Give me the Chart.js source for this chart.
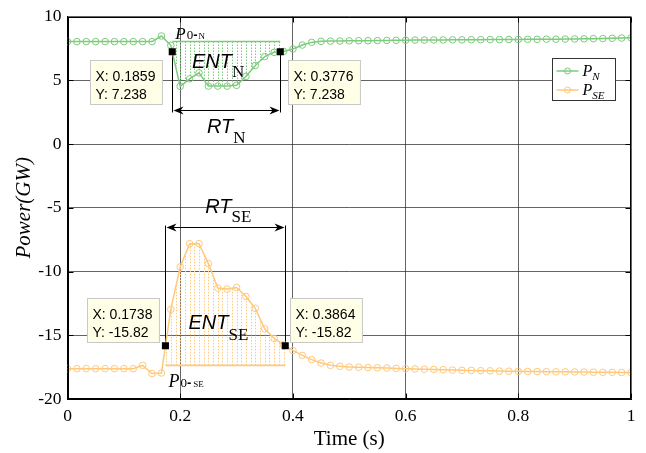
<!DOCTYPE html>
<html>
<head>
<meta charset="utf-8">
<script src="https://cdn.jsdelivr.net/npm/chart.js@4.4.1/dist/chart.umd.min.js"></script>
<style>
  html, body { margin: 0; padding: 0; background: #fff; }
  canvas { display: block; }
</style>
</head>
<body>
<canvas id="power-chart" width="646" height="453"></canvas>
<script>
// sample times (s)
const time = [
  0, 0.0167, 0.0333, 0.05, 0.0667, 0.0833, 0.1, 0.1167, 0.1333, 0.15,
  0.1667, 0.1833, 0.2, 0.2167, 0.2333, 0.25, 0.2667, 0.2833, 0.3, 0.3167,
  0.3333, 0.35, 0.3667, 0.3833, 0.4, 0.4167, 0.4333, 0.45, 0.4667, 0.4833,
  0.5, 0.5167, 0.5333, 0.55, 0.5667, 0.5833, 0.6, 0.6167, 0.6333, 0.65,
  0.6667, 0.6833, 0.7, 0.7167, 0.7333, 0.75, 0.7667, 0.7833, 0.8, 0.8167,
  0.8333, 0.85, 0.8667, 0.8833, 0.9, 0.9167, 0.9333, 0.95, 0.9667, 0.9833, 1
];
// north tie-line power (GW)
const powerN = [
  8.03, 8.03, 8.03, 8.03, 8.03, 8.03, 8.03, 8.03, 8.03, 8.03,
  8.47, 7.74, 4.52, 5.11, 5.58, 4.54, 4.54, 4.54, 4.60, 5.30,
  6.16, 6.86, 7.19, 7.26, 7.45, 7.76, 7.97, 8.05, 8.07, 8.08,
  8.09, 8.10, 8.10, 8.11, 8.12, 8.13, 8.14, 8.15, 8.15, 8.16,
  8.16, 8.17, 8.17, 8.18, 8.18, 8.19, 8.19, 8.20, 8.20, 8.21,
  8.21, 8.22, 8.22, 8.23, 8.24, 8.25, 8.26, 8.27, 8.29, 8.31, 8.33
];
// south-east tie-line power (GW)
const powerSE = [
  -17.62, -17.62, -17.62, -17.62, -17.62, -17.62, -17.62, -17.62, -17.36, -18.00,
  -17.96, -12.97, -9.64, -7.82, -7.82, -9.38, -11.30, -11.38, -11.25, -11.96,
  -12.89, -14.50, -15.25, -15.74, -16.19, -16.58, -16.91, -17.18, -17.36, -17.44,
  -17.49, -17.51, -17.53, -17.55, -17.57, -17.60, -17.62, -17.64, -17.66, -17.68,
  -17.70, -17.73, -17.75, -17.76, -17.78, -17.79, -17.81, -17.82, -17.83, -17.84,
  -17.85, -17.86, -17.87, -17.87, -17.88, -17.89, -17.90, -17.91, -17.91, -17.92, -17.93
];
// data tips: N start, N end, SE start, SE end
const tipX = [0.1859, 0.3776, 0.1738, 0.3864];
const tipY = [7.238, 7.238, -15.82, -15.82];
// pre-fault levels P0 for N and SE
const baseLevel = [8.04, -17.36];
// heights of the RT arrows
const rtLevel = [2.65, -6.5];

const xTicks = [0, 0.2, 0.4, 0.6, 0.8, 1];
const yTicks = [-20, -15, -10, -5, 0, 5, 10];

const GREEN = 'rgb(124,202,124)';
const ORANGE = 'rgb(255,200,122)';
const SERIF = "'Liberation Serif', 'Times New Roman', serif";
const SANS = "'Liberation Sans', Arial, sans-serif";
const GRID = 'rgba(40,40,40,0.72)';

function interp(xs, ys, x) {
  for (let i = 1; i < xs.length; i++) {
    if (x <= xs[i]) {
      const t = (x - xs[i - 1]) / (xs[i] - xs[i - 1]);
      return ys[i - 1] + t * (ys[i] - ys[i - 1]);
    }
  }
  return ys[ys.length - 1];
}

// draws a run of text pieces, each with its own font and baseline shift
function drawPieces(ctx, x, y, pieces) {
  ctx.textAlign = 'left';
  ctx.textBaseline = 'alphabetic';
  for (const p of pieces) {
    ctx.font = p.font;
    ctx.fillText(p.t, x, y + (p.dy || 0));
    x += ctx.measureText(p.t).width + (p.gap || 0);
  }
}

function arrowHead(ctx, x, y, dir) {
  ctx.beginPath();
  ctx.moveTo(x, y);
  ctx.lineTo(x - dir * 10, y - 4);
  ctx.lineTo(x - dir * 7, y);
  ctx.lineTo(x - dir * 10, y + 4);
  ctx.closePath();
  ctx.fill();
}

// ENT hatching, reference lines, RT markers
const regionPlugin = {
  id: 'regions',
  beforeDatasetsDraw(chart) {
    const { ctx, chartArea, scales: { x: xs, y: ys } } = chart;
    ctx.save();
    ctx.beginPath();
    ctx.rect(chartArea.left, chartArea.top, chartArea.width, chartArea.height);
    ctx.clip();

    const regions = [
      { vals: powerN, color: GREEN, x0: tipX[0], x1: tipX[1], level: baseLevel[0] },
      { vals: powerSE, color: ORANGE, x0: tipX[2], x1: tipX[3], level: baseLevel[1] }
    ];
    for (const r of regions) {
      ctx.strokeStyle = r.color;
      ctx.lineWidth = 1;
      ctx.setLineDash([1.5, 1.5]);
      const step = 1 / 120;
      for (let k = Math.ceil(r.x0 / step); k * step < r.x1; k++) {
        const xv = k * step;
        if (xv <= r.x0) continue;
        const px = Math.round(xs.getPixelForValue(xv)) + 0.5;
        ctx.beginPath();
        ctx.moveTo(px, ys.getPixelForValue(r.level));
        ctx.lineTo(px, ys.getPixelForValue(interp(time, r.vals, xv)));
        ctx.stroke();
      }
      ctx.setLineDash([]);
      ctx.lineWidth = 1.6;
      ctx.beginPath();
      ctx.moveTo(xs.getPixelForValue(r.x0), ys.getPixelForValue(r.level));
      ctx.lineTo(xs.getPixelForValue(r.x1), ys.getPixelForValue(r.level));
      ctx.stroke();
    }

    // RT brackets
    ctx.strokeStyle = '#000';
    ctx.fillStyle = '#000';
    ctx.lineWidth = 1;
    for (let j = 0; j < 2; j++) {
      const a = tipX[j * 2], b = tipX[j * 2 + 1];
      const pa = Math.round(xs.getPixelForValue(a)) + 0.5;
      const pb = Math.round(xs.getPixelForValue(b)) + 0.5;
      const py = Math.round(ys.getPixelForValue(rtLevel[j])) + 0.5;
      const extra = j === 0 ? 2 : -2;
      ctx.beginPath();
      ctx.moveTo(pa, ys.getPixelForValue(tipY[j * 2]));
      ctx.lineTo(pa, py + extra);
      ctx.moveTo(pb, ys.getPixelForValue(tipY[j * 2 + 1]));
      ctx.lineTo(pb, py + extra);
      ctx.moveTo(pa + 4, py);
      ctx.lineTo(pb - 4, py);
      ctx.stroke();
      arrowHead(ctx, pa + 1, py, -1);
      arrowHead(ctx, pb - 1, py, 1);
    }
    ctx.restore();
  },

  afterDatasetsDraw(chart) {
    const { ctx, chartArea, scales: { x: xs, y: ys } } = chart;
    ctx.save();

    // text labels
    ctx.fillStyle = '#000';
    const sub = '17px ' + SERIF;
    const big = 'italic 20px ' + SANS;
    const labels = [
      { x: 0.1912, y: 8.23, parts: [
        { t: 'P', font: 'italic 17px ' + SERIF, gap: 1 },
        { t: '0', font: '13px ' + SERIF },
        { t: '-', font: 'bold 13px ' + SANS, gap: 1 },
        { t: 'N', font: '9px ' + SERIF }] },
      { x: 0.1792, y: -19.07, parts: [
        { t: 'P', font: 'italic 18px ' + SERIF, gap: 1 },
        { t: '0', font: '13px ' + SERIF },
        { t: '-', font: 'bold 13px ' + SANS, gap: 2 },
        { t: 'SE', font: '9px ' + SERIF }] },
      { x: 0.2208, y: 5.94, parts: [{ t: 'ENT', font: big }, { t: 'N', font: sub, dy: 9 }] },
      { x: 0.2147, y: -14.5, parts: [{ t: 'ENT', font: big }, { t: 'SE', font: sub, dy: 11 }] },
      { x: 0.2474, y: 0.9, parts: [{ t: 'RT', font: big }, { t: 'N', font: sub, dy: 10 }] },
      { x: 0.2444, y: -5.41, parts: [{ t: 'RT', font: big }, { t: 'SE', font: sub, dy: 9 }] }
    ];
    for (const l of labels) {
      drawPieces(ctx, xs.getPixelForValue(l.x), ys.getPixelForValue(l.y), l.parts);
    }

    // data tip boxes
    const place = [
      { ax: 'right', ay: 'top', dx: -10, dy: 8 },
      { ax: 'left', ay: 'top', dx: 8, dy: 8 },
      { ax: 'right', ay: 'bottom', dx: -6, dy: -4 },
      { ax: 'left', ay: 'bottom', dx: 5, dy: -4 }
    ];
    ctx.font = '14px ' + SANS;
    for (let i = 0; i < tipX.length; i++) {
      const l1 = 'X: ' + tipX[i], l2 = 'Y: ' + tipY[i];
      const w = Math.max(ctx.measureText(l1).width, ctx.measureText(l2).width) + 12;
      const h = 44;
      const px = xs.getPixelForValue(tipX[i]), py = ys.getPixelForValue(tipY[i]);
      const p = place[i];
      let bx = p.ax === 'right' ? px + p.dx - w : px + p.dx;
      let by = p.ay === 'top' ? py + p.dy : py + p.dy - h;
      bx = Math.round(bx) + 0.5; by = Math.round(by) + 0.5;
      ctx.fillStyle = 'rgb(255,255,232)';
      ctx.fillRect(bx, by, w, h);
      ctx.strokeStyle = 'rgb(200,200,200)';
      ctx.lineWidth = 1;
      ctx.strokeRect(bx, by, w, h);
      ctx.fillStyle = '#000';
      ctx.textAlign = 'left';
      ctx.textBaseline = 'alphabetic';
      ctx.fillText(l1, bx + 5, by + 20);
      ctx.fillText(l2, bx + 5, by + 38);
    }

    // legend
    const lx = Math.round(chartArea.right - 79) + 0.5, ly = Math.round(chartArea.top + 41) + 0.5;
    ctx.fillStyle = '#fff';
    ctx.fillRect(lx, ly, 63, 42);
    ctx.strokeStyle = '#333';
    ctx.strokeRect(lx, ly, 63, 42);
    const entries = [
      { color: GREEN, sub: 'N', y: ly + 12.5 },
      { color: ORANGE, sub: 'SE', y: ly + 31.5 }
    ];
    for (const e of entries) {
      ctx.strokeStyle = e.color;
      ctx.lineWidth = 1.5;
      ctx.beginPath();
      ctx.moveTo(lx + 4, e.y);
      ctx.lineTo(lx + 26, e.y);
      ctx.stroke();
      ctx.lineWidth = 1;
      ctx.beginPath();
      ctx.arc(lx + 15, e.y, 3, 0, Math.PI * 2);
      ctx.stroke();
      ctx.fillStyle = '#000';
      drawPieces(ctx, lx + 30, e.y + 5, [
        { t: 'P', font: 'italic 16px ' + SERIF },
        { t: e.sub, font: 'italic 11px ' + SERIF, dy: 4 }
      ]);
    }

    // axes box and inward ticks
    ctx.strokeStyle = '#000';
    ctx.lineWidth = 1;
    const L = Math.round(chartArea.left) + 0.5, R = Math.round(chartArea.right) - 0.5;
    const T = Math.round(chartArea.top) + 0.5, B = Math.round(chartArea.bottom) - 0.5;
    ctx.strokeRect(L, T, R - L, B - T);
    ctx.beginPath();
    for (const v of xTicks) {
      const px = Math.round(xs.getPixelForValue(v)) + 0.5;
      ctx.moveTo(px, B); ctx.lineTo(px, B - 5);
      ctx.moveTo(px, T); ctx.lineTo(px, T + 5);
    }
    for (const v of yTicks) {
      const py = Math.round(ys.getPixelForValue(v)) + 0.5;
      ctx.moveTo(L, py); ctx.lineTo(L + 5, py);
      ctx.moveTo(R, py); ctx.lineTo(R - 5, py);
    }
    ctx.stroke();

    // axis titles
    ctx.fillStyle = '#000';
    ctx.font = '21px ' + SERIF;
    ctx.textAlign = 'center';
    ctx.textBaseline = 'alphabetic';
    ctx.fillText('Time (s)', (chartArea.left + chartArea.right) / 2, 445);
    ctx.save();
    ctx.translate(30, (chartArea.top + chartArea.bottom) / 2);
    ctx.rotate(-Math.PI / 2);
    ctx.font = 'italic 21px ' + SERIF;
    ctx.fillText('Power(GW)', 0, 0);
    ctx.restore();

    ctx.restore();
  }
};

const seriesStyle = (color) => ({
  borderColor: color,
  borderWidth: 1.5,
  pointRadius: 3.3,
  pointBorderWidth: 1,
  pointBorderColor: color,
  pointBackgroundColor: 'rgba(0,0,0,0)',
  showLine: true,
  tension: 0
});

new Chart(document.getElementById('power-chart').getContext('2d'), {
  type: 'scatter',
  data: {
    datasets: [
      Object.assign({ label: 'P_N', data: time.map((t, i) => ({ x: t, y: powerN[i] })) }, seriesStyle(GREEN)),
      Object.assign({ label: 'P_SE', data: time.map((t, i) => ({ x: t, y: powerSE[i] })) }, seriesStyle(ORANGE)),
      {
        label: 'tips',
        data: tipX.map((x, i) => ({ x: x, y: tipY[i] })),
        pointStyle: 'rect',
        pointRadius: 5,
        backgroundColor: '#000',
        borderColor: '#000',
        borderWidth: 0,
        showLine: false,
        order: -1
      }
    ]
  },
  options: {
    responsive: false,
    animation: false,
    layout: { padding: { top: 14, right: 15, left: 0, bottom: 0 } },
    plugins: { legend: { display: false }, tooltip: { enabled: false } },
    scales: {
      x: {
        type: 'linear',
        min: 0,
        max: 1,
        afterBuildTicks: (s) => { s.ticks = xTicks.map(v => ({ value: v })); },
        afterFit: (s) => { s.height = 54; },
        grid: { color: GRID, drawTicks: false },
        border: { color: '#000' },
        ticks: {
          color: '#000',
          padding: 7,
          maxRotation: 0,
          font: { family: SERIF, size: 17.5 },
          callback: (v) => (v === 0 || v === 1) ? String(v) : v.toFixed(1)
        }
      },
      y: {
        min: -20,
        max: 10,
        afterBuildTicks: (s) => { s.ticks = yTicks.map(v => ({ value: v })); },
        afterFit: (s) => { s.width = 67.5; },
        grid: { color: GRID, drawTicks: false },
        border: { color: '#000' },
        ticks: {
          color: '#000',
          padding: 6,
          font: { family: SERIF, size: 17.5 },
          callback: (v) => String(v)
        }
      }
    }
  },
  plugins: [regionPlugin]
});
</script>
</body>
</html>
